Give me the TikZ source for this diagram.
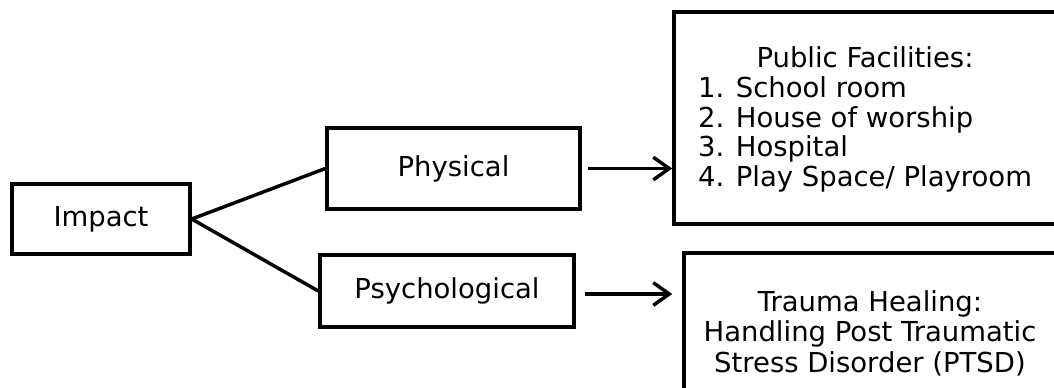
\documentclass[tikz,border=0pt]{standalone}
\usepackage{fontspec}
\setmainfont{DejaVu Sans}
\usetikzlibrary{arrows.meta}

\tikzset{
  box/.style={draw, line width=2.6pt, inner sep=0pt, align=center,
    font=\fontsize{20.6}{22.8}\selectfont},
  txt/.style={inner sep=0pt, align=center, font=\fontsize{20.6}{21.8}\selectfont},
  link/.style={line width=2.6pt},
  pointer/.style={line width=2.6pt, -{Straight Barb[length=12pt,width=17pt,line width=2.6pt]}}
}

\begin{document}
\begin{tikzpicture}[x=0.75pt, y=-0.75pt]
	\useasboundingbox (0,0) rectangle (1054,387);

            \node[box, minimum width=133.5pt, minimum height=52.5pt] (imp) at (101,219) {Impact};
            \node[box, minimum width=189.75pt, minimum height=60.75pt] (phys) at (453.5,168.5) {Physical};
            \node[box, minimum width=190.5pt, minimum height=54pt] (psy) at (447,291) {Psychological};

            \node[box, minimum width=289.5pt, minimum height=159pt] (pub) at (867,118) {};
            \node[txt] (publist) at (865,121)
              {\begin{tabular}{@{}l@{}}
                \multicolumn{1}{c}{Public Facilities:}\\
                1. School room\\
                2. House of worship\\
                3. Hospital\\
                4. Play Space/ Playroom
              \end{tabular}};
            \node[box, minimum width=279pt, minimum height=120pt] (trau) at (870,333)
              {Trauma Healing:\\ Handling Post Traumatic\\ Stress Disorder (PTSD)};

            \draw[link] (imp.east) -- (phys.west);
            \draw[link] (imp.east) -- (psy.west);

            \draw[pointer, shorten <=5pt] (phys.east) -- (phys.east -| pub.west);
            \draw[pointer, shorten <=7pt] (psy.east) ++(0,3) coordinate (psyout) -- (psyout -| pub.west);

          %\node at (0,0) {};
        \end{tikzpicture}
\end{document}
